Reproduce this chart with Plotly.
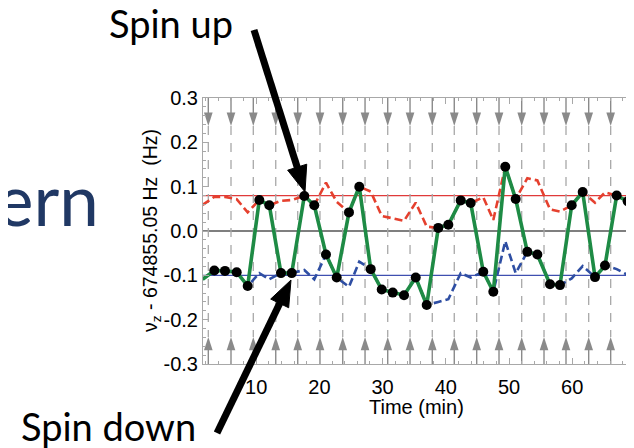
import plotly.graph_objects as go

# ---------------- data ----------------
TIME = [1.53, 3.37, 5.06, 6.91, 8.65, 10.49, 12.07, 13.92, 15.62, 17.61,
        19.19, 21.04, 22.74, 24.68, 26.31, 28.12, 29.86, 31.60, 33.39, 35.24,
        36.98, 38.81, 40.40, 42.36, 43.94, 45.93, 47.52, 49.41, 51.06, 52.90,
        54.49, 56.49, 58.07, 59.92, 61.66, 63.61, 65.19, 67.04, 68.78, 70.60]

SIGNAL = [-0.109, -0.089, -0.090, -0.093, -0.124, 0.070, 0.058, -0.095, -0.095, 0.079,
          0.058, -0.053, -0.105, 0.042, 0.100, -0.086, -0.132, -0.139, -0.145, -0.105,
          -0.167, 0.007, 0.014, 0.069, 0.063, -0.092, -0.137, 0.145, 0.072, -0.047,
          -0.053, -0.120, -0.122, 0.058, 0.088, -0.104, -0.078, 0.080, 0.067, -0.055]

UP_TRACE = [0.059, 0.077, 0.077, 0.072, 0.042, 0.070, 0.058, 0.068, 0.070, 0.079,
            0.058, 0.109, 0.066, 0.042, 0.100, 0.089, 0.034, 0.028, 0.023, 0.064,
            0.010, 0.007, 0.014, 0.069, 0.063, 0.076, 0.025, 0.145, 0.072, 0.119,
            0.114, 0.049, 0.044, 0.058, 0.088, 0.064, 0.087, 0.080, 0.067, 0.093]

DOWN_TRACE = [-0.109, -0.089, -0.090, -0.093, -0.124, -0.095, -0.109, -0.095, -0.095, -0.088,
              -0.109, -0.053, -0.105, -0.126, -0.069, -0.086, -0.132, -0.139, -0.145, -0.105,
              -0.167, -0.160, -0.154, -0.095, -0.105, -0.092, -0.137, -0.023, -0.095, -0.047,
              -0.053, -0.120, -0.122, -0.107, -0.079, -0.104, -0.078, -0.086, -0.099, -0.065]

ARROW_TIMES = [2.42, 6.01, 9.54, 13.09, 16.57, 20.09, 23.69, 27.22, 30.81, 34.34,
               37.86, 41.34, 44.89, 48.42, 52.01, 55.54, 59.02, 62.61, 66.09, 69.57]

UP_LEVEL = 0.08
DOWN_LEVEL = -0.10
ZERO_LEVEL = 0.0

X_TICKS = [10, 20, 30, 40, 50, 60]
X_TICK_LABELS = ["10", "20", "30", "40", "50", "60"]
Y_TICKS = [-0.3, -0.2, -0.1, 0.0, 0.1, 0.2, 0.3]
Y_TICK_LABELS = ["-0.3", "-0.2", "-0.1", "0.0", "0.1", "0.2", "0.3"]

# ---------------- layout geometry ----------------
# the page adds an 8 px body margin, so the figure is 8 px smaller and all
# page positions below are given in page pixels
PAGE_W, PAGE_H, BODY = 634, 448, 8
W, H = PAGE_W - BODY, PAGE_H - BODY
PX0, PX1, PY0, PY1 = 203, 634, 98, 364   # plot area in page pixels


def pxx(x):
    return (x - PX0) / (PX1 - PX0)


def pxy(y):
    return (PY1 - y) / (PY1 - PY0)


AXIS_FONT = "Liberation Sans, Arial, sans-serif"
SLIDE_FONT = "Lato, Open Sans, sans-serif"
GRAY = "#8a8a8a"
LIGHT_GRAY = "#a8a8a8"

fig = go.Figure()

# vertical measurement markers (solid stems, dashed centre, arrowheads)
top_x, top_y, dash_x, dash_y, bot_x, bot_y = [], [], [], [], [], []
for t in ARROW_TIMES:
    top_x += [t, t, None]
    top_y += [0.3, 0.262, None]
    dash_x += [t, t, None]
    dash_y += [0.237, -0.239, None]
    bot_x += [t, t, None]
    bot_y += [-0.264, -0.3, None]

fig.add_trace(go.Scatter(x=dash_x, y=dash_y, mode="lines",
                         line=dict(color=LIGHT_GRAY, width=1.3, dash="9px,8px"),
                         hoverinfo="skip"))
fig.add_trace(go.Scatter(x=top_x, y=top_y, mode="lines",
                         line=dict(color=GRAY, width=1.4), hoverinfo="skip"))
fig.add_trace(go.Scatter(x=bot_x, y=bot_y, mode="lines",
                         line=dict(color=GRAY, width=1.4), hoverinfo="skip"))
fig.add_trace(go.Scatter(x=ARROW_TIMES, y=[0.237] * len(ARROW_TIMES), mode="markers",
                         marker=dict(symbol="arrow", angle=180, size=14, color=GRAY,
                                     line=dict(width=0)),
                         hoverinfo="skip"))
fig.add_trace(go.Scatter(x=ARROW_TIMES, y=[-0.239] * len(ARROW_TIMES), mode="markers",
                         marker=dict(symbol="arrow", angle=0, size=14, color=GRAY,
                                     line=dict(width=0)),
                         hoverinfo="skip"))

# reference levels
for lvl, col in [(ZERO_LEVEL, "#000000"), (UP_LEVEL, "#e03a3a"), (DOWN_LEVEL, "#3f4fb0")]:
    fig.add_shape(type="line", xref="paper", x0=0, x1=1, yref="y", y0=lvl, y1=lvl,
                  line=dict(color=col, width=1.2), layer="below")

# spin-up / spin-down traces
fig.add_trace(go.Scatter(x=TIME, y=UP_TRACE, mode="lines",
                         line=dict(color="#e5402e", width=2.6, dash="8px,4px"),
                         hoverinfo="skip"))
fig.add_trace(go.Scatter(x=TIME, y=DOWN_TRACE, mode="lines",
                         line=dict(color="#2e4ea3", width=2.6, dash="8px,4px"),
                         hoverinfo="skip"))

# measured signal
fig.add_trace(go.Scatter(x=TIME, y=SIGNAL, mode="lines",
                         line=dict(color="#1e8b45", width=3.6), hoverinfo="skip"))
fig.add_trace(go.Scatter(x=TIME, y=SIGNAL, mode="markers", cliponaxis=False,
                         marker=dict(color="#000000", size=10), hoverinfo="skip"))


# big pointer arrows
def pointer(tail, tip, width=7, head_len=26, head_half=10):
    dx, dy = tip[0] - tail[0], tip[1] - tail[1]
    L = (dx * dx + dy * dy) ** 0.5
    ux, uy = dx / L, dy / L
    nx, ny = -uy, ux
    bx, by = tip[0] - head_len * ux, tip[1] - head_len * uy
    fig.add_shape(type="line", xref="paper", yref="paper",
                  x0=pxx(tail[0]), y0=pxy(tail[1]),
                  x1=pxx(bx + 2 * ux), y1=pxy(by + 2 * uy),
                  line=dict(color="black", width=width))
    c1 = (bx + head_half * nx, by + head_half * ny)
    c2 = (bx - head_half * nx, by - head_half * ny)
    path = "M {:.5f},{:.5f} L {:.5f},{:.5f} L {:.5f},{:.5f} Z".format(
        pxx(tip[0]), pxy(tip[1]), pxx(c1[0]), pxy(c1[1]), pxx(c2[0]), pxy(c2[1]))
    fig.add_shape(type="path", xref="paper", yref="paper", path=path,
                  fillcolor="black", line=dict(color="black", width=1))


pointer((254, 30), (305, 192))
pointer((217, 433), (291, 280))

annotations = [
    dict(text="Spin up", x=pxx(170.5), y=pxy(23), xanchor="center", yanchor="middle",
         font=dict(family=SLIDE_FONT, size=38, color="black")),
    dict(text="Spin down", x=pxx(108), y=pxy(426), xanchor="center", yanchor="middle",
         font=dict(family=SLIDE_FONT, size=38, color="black")),
    dict(text="ern", x=pxx(101), y=pxy(198), xanchor="right", yanchor="middle",
         font=dict(family=SLIDE_FONT, size=71, color="#203864")),
    dict(text="\u03bd<sub>z</sub> - 674855.05 Hz&nbsp; (Hz)", x=pxx(151), y=0.5,
         xanchor="center", yanchor="middle", textangle=-90,
         font=dict(family=AXIS_FONT, size=19.5, color="black")),
    dict(text="Time (min)", x=pxx(416), y=pxy(407), xanchor="center", yanchor="middle",
         font=dict(family=AXIS_FONT, size=20, color="black")),
]
for a in annotations:
    a.update(xref="paper", yref="paper", showarrow=False)

fig.update_layout(
    width=W, height=H,
    margin=dict(l=PX0 - BODY, r=PAGE_W - PX1, t=PY0 - BODY, b=PAGE_H - PY1),
    paper_bgcolor="white", plot_bgcolor="white",
    showlegend=False,
    annotations=annotations,
    xaxis=dict(range=[1.58, 69.78], showgrid=False, zeroline=False,
               showline=True, linecolor=LIGHT_GRAY, linewidth=1, mirror="ticks",
               ticks="inside", ticklen=6, tickcolor=LIGHT_GRAY, tickwidth=1,
               tickvals=X_TICKS, ticktext=X_TICK_LABELS, ticklabelstandoff=5,
               tickfont=dict(family=AXIS_FONT, size=20, color="black"),
               minor=dict(ticks="inside", ticklen=3, dtick=2, tick0=0,
                          tickcolor=LIGHT_GRAY, showgrid=False)),
    yaxis=dict(range=[-0.3, 0.3], showgrid=False, zeroline=False,
               showline=True, linecolor=LIGHT_GRAY, linewidth=1, mirror=False,
               ticks="inside", ticklen=6, tickcolor=LIGHT_GRAY, tickwidth=1,
               tickvals=Y_TICKS, ticktext=Y_TICK_LABELS,
               tickfont=dict(family=AXIS_FONT, size=20, color="black"),
               minor=dict(ticks="inside", ticklen=3, dtick=0.02, tick0=0,
                          tickcolor=LIGHT_GRAY, showgrid=False)),
)

fig.write_html("out.html")
